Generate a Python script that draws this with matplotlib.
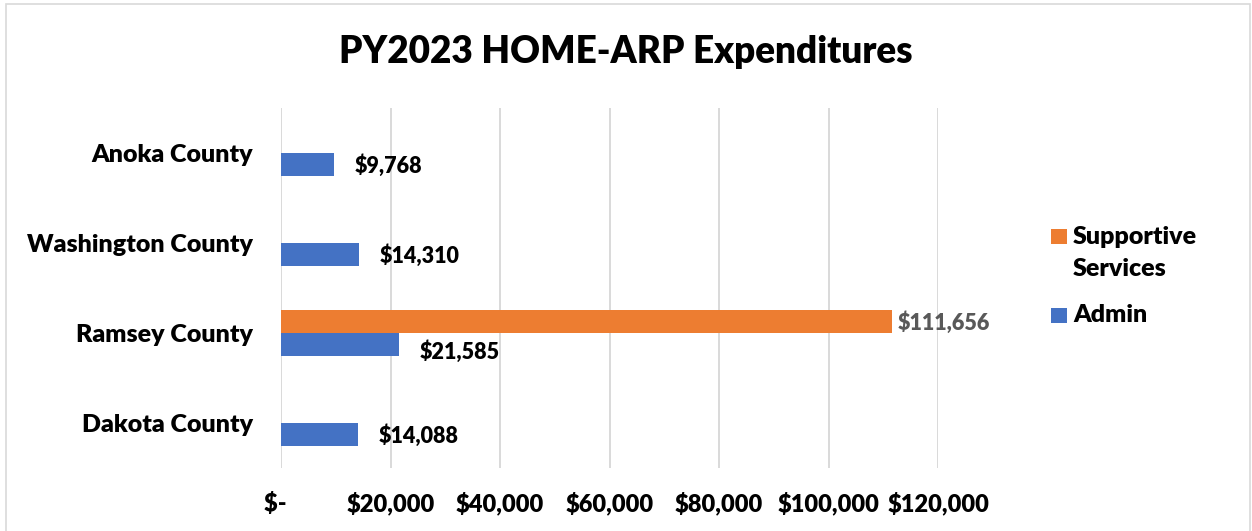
import matplotlib
matplotlib.use("Agg")
import matplotlib.pyplot as plt
from matplotlib.patches import Rectangle
import numpy as np

categories = ["Anoka County", "Washington County", "Ramsey County", "Dakota County"]
admin = [9768, 14310, 21585, 14088]
supportive = [0, 0, 111656, 0]
x_ticks = [0, 20000, 40000, 60000, 80000, 100000, 120000]
x_tick_labels = ["$-  ", "$20,000", "$40,000", "$60,000", "$80,000", "$100,000", "$120,000"]
series_names = ["Supportive\nServices", "Admin"]
title = "PY2023 HOME-ARP Expenditures"

BLUE = "#4472C4"
ORANGE = "#ED7D31"
GRID = "#D9D9D9"
FONT = "Lato"
WT = "heavy"

plt.rcParams['font.family'] = [FONT, 'DejaVu Sans']

W, H = 1252, 531
fig = plt.figure(figsize=(W / 100, H / 100), dpi=100)
fig.patch.set_facecolor("white")

# chart border
fig.patches.append(Rectangle((6 / W, -0.01), (1250 - 6) / W, 1 - 4 / H + 0.01,
                             transform=fig.transFigure, fill=False,
                             edgecolor=GRID, linewidth=1.2))

ax = fig.add_axes([281 / W, 1 - 468 / H, (938 - 281) / W, (468 - 108) / H])

y = np.arange(len(categories))
bh = 0.255
b_sup = ax.barh(y - bh / 2, supportive, height=bh, color=ORANGE, label=series_names[0], zorder=3)
b_adm = ax.barh(y + bh / 2, admin, height=bh, color=BLUE, label=series_names[1], zorder=3)

for rect, v, s in zip(b_adm, admin, supportive):
    dy = -5 if s else -0.5
    ax.annotate(f"${v:,.0f}", (rect.get_width(), rect.get_y() + rect.get_height() / 2),
                xytext=(14.5, dy), textcoords="offset points", ha="left", va="center",
                fontsize=15.5, fontweight=WT, color="black")
for rect, v in zip(b_sup, supportive):
    if v:
        ax.annotate(f"${v:,.0f}", (rect.get_width(), rect.get_y() + rect.get_height() / 2),
                    xytext=(3.5, -0.5), textcoords="offset points", ha="left", va="center",
                    fontsize=15.5, fontweight=WT, color="#595959")

ax.set_xlim(0, 120000)
ax.set_ylim(len(categories) - 0.5, -0.5)
ax.set_xticks(x_ticks)
ax.set_xticklabels(x_tick_labels)
ax.set_yticks(y)
ax.set_yticklabels(categories)
ax.tick_params(axis="x", length=0, labelsize=17, pad=17)
ax.tick_params(axis="y", length=0, labelsize=18, pad=20)
for lab in ax.get_xticklabels() + ax.get_yticklabels():
    lab.set_fontweight(WT)
ax.xaxis.grid(True, color=GRID, linewidth=1.4, zorder=0)
ax.set_axisbelow(True)
for s in ax.spines.values():
    s.set_visible(False)

fig.text(0.5, 1 - 52 / H, title, ha="center", va="center", fontsize=26.6, fontweight=WT)

# legend (square aligned with first line of each entry, as in the reference)
def legend_entry(bars, label, ytop):
    fig.patches.append(Rectangle((1051 / W, 1 - (ytop + 15) / H), 16 / W, 15 / H,
                                 transform=fig.transFigure,
                                 facecolor=bars.patches[0].get_facecolor(), edgecolor="none"))
    fig.text(1073 / W, 1 - (ytop + 7.5) / H, label.split("\n")[0], ha="left", va="center",
             fontsize=18, fontweight=WT)
    for i, extra in enumerate(label.split("\n")[1:], start=1):
        fig.text(1073 / W, 1 - (ytop + 7.5 + 33 * i) / H, extra, ha="left", va="center",
                 fontsize=18, fontweight=WT)

legend_entry(b_sup, series_names[0], 229)
legend_entry(b_adm, series_names[1], 308)

fig.savefig("out.png", dpi=100)
